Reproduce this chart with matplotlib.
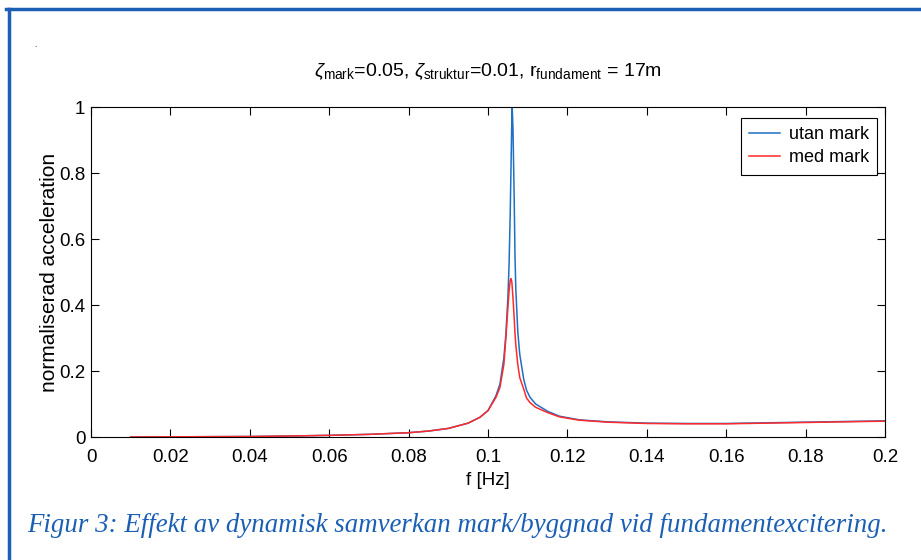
import matplotlib
matplotlib.use('Agg')
import matplotlib.pyplot as plt
from matplotlib.lines import Line2D

# frequency [Hz] and normalised acceleration
freq = [0.01, 0.02, 0.03, 0.04, 0.05, 0.06, 0.07, 0.08, 0.085, 0.09, 0.095,
        0.098, 0.1, 0.102, 0.103, 0.104, 0.1045, 0.105, 0.1053, 0.1056,
        0.1058, 0.106, 0.1061, 0.1063, 0.1066, 0.1068, 0.107, 0.1075, 0.108,
        0.109, 0.1097, 0.1106, 0.112, 0.115, 0.118, 0.123, 0.13, 0.14, 0.15,
        0.16, 0.17, 0.18, 0.19, 0.2]
utan_mark = [0.0, 0.0005, 0.001, 0.0015, 0.003, 0.005, 0.008, 0.013, 0.018,
             0.026, 0.042, 0.06, 0.08, 0.125, 0.16, 0.24, 0.31, 0.42, 0.52,
             0.68, 0.82, 0.96, 1.0, 0.93, 0.72, 0.55, 0.45, 0.32, 0.25, 0.175,
             0.142, 0.12, 0.1, 0.078, 0.063, 0.052, 0.046, 0.042, 0.041,
             0.041, 0.043, 0.045, 0.047, 0.049]
med_mark = [0.0, 0.0005, 0.001, 0.0015, 0.003, 0.005, 0.008, 0.013, 0.018,
            0.026, 0.042, 0.06, 0.08, 0.12, 0.15, 0.22, 0.30, 0.39, 0.44,
            0.475, 0.48, 0.47, 0.455, 0.42, 0.36, 0.315, 0.28, 0.22, 0.18,
            0.145, 0.118, 0.104, 0.09, 0.074, 0.061, 0.051, 0.045, 0.041,
            0.04, 0.04, 0.042, 0.044, 0.046, 0.048]

xticks = [0, 0.02, 0.04, 0.06, 0.08, 0.1, 0.12, 0.14, 0.16, 0.18, 0.2]
xticklabels = ['0', '0.02', '0.04', '0.06', '0.08', '0.1', '0.12', '0.14',
               '0.16', '0.18', '0.2']
yticks = [0, 0.2, 0.4, 0.6, 0.8, 1]
yticklabels = ['0', '0.2', '0.4', '0.6', '0.8', '1']

plt.rcParams['font.family'] = ['Liberation Sans', 'DejaVu Sans']
plt.rcParams['mathtext.fontset'] = 'custom'
plt.rcParams['mathtext.rm'] = 'Liberation Sans'
plt.rcParams['mathtext.it'] = 'Liberation Sans:italic'

frame_blue = '#1a5fb4'

fig = plt.figure(figsize=(9.21, 5.6), dpi=100)
ax = fig.add_axes([91 / 921, 1 - 437 / 560, (885 - 91) / 921, (437 - 107) / 560])

ax.plot(freq, utan_mark, color='#1f6fc4', lw=1.1, label='utan mark')
ax.plot(freq, med_mark, color='#ff2a2a', lw=1.1, label='med mark')

ax.set_xlim(0, 0.2)
ax.set_ylim(0, 1)
ax.set_xticks(xticks)
ax.set_xticklabels(xticklabels)
ax.set_yticks(yticks)
ax.set_yticklabels(yticklabels)
ax.tick_params(direction='in', top=True, right=True, length=6, width=0.8,
               labelsize=13.5)
ax.tick_params(axis='x', pad=9)
ax.tick_params(axis='y', pad=4)
for s in ax.spines.values():
    s.set_linewidth(0.8)

ax.set_xlabel('f [Hz]', fontsize=13.5, labelpad=4)
ax.set_ylabel('normaliserad acceleration', fontsize=15, labelpad=0)
ax.set_title(r'$\zeta_{\mathrm{mark}}$=0.05, $\zeta_{\mathrm{struktur}}$=0.01, '
             r'r$_{\mathrm{fundament}}$ = 17m', fontsize=14, pad=22)

leg = ax.legend(loc='upper right', bbox_to_anchor=((877 - 91) / 794, (437 - 118) / 330),
                borderaxespad=0, fontsize=13, fancybox=False, framealpha=1,
                edgecolor='black', handlelength=1.7, handletextpad=0.5,
                borderpad=0.45, labelspacing=0.35)
leg.get_frame().set_linewidth(0.8)

# blue page frame and caption
fig.add_artist(Line2D([6 / 921, 1], [1 - 9 / 560, 1 - 9 / 560], color=frame_blue,
                      lw=2.5, transform=fig.transFigure))
fig.add_artist(Line2D([9 / 921, 9 / 921], [0, 1 - 9 / 560], color=frame_blue,
                      lw=2.5, transform=fig.transFigure))
fig.text(35 / 921, 1 - 47 / 560, '.', fontsize=6, ha='center', va='baseline')
fig.text(27 / 921, 1 - 526 / 560,
         'Figur 3: Effekt av dynamisk samverkan mark/byggnad vid fundamentexcitering.',
         family='Liberation Serif', style='italic', fontsize=19.4, color=frame_blue,
         ha='left', va='center')

fig.savefig('out.png', dpi=100)
